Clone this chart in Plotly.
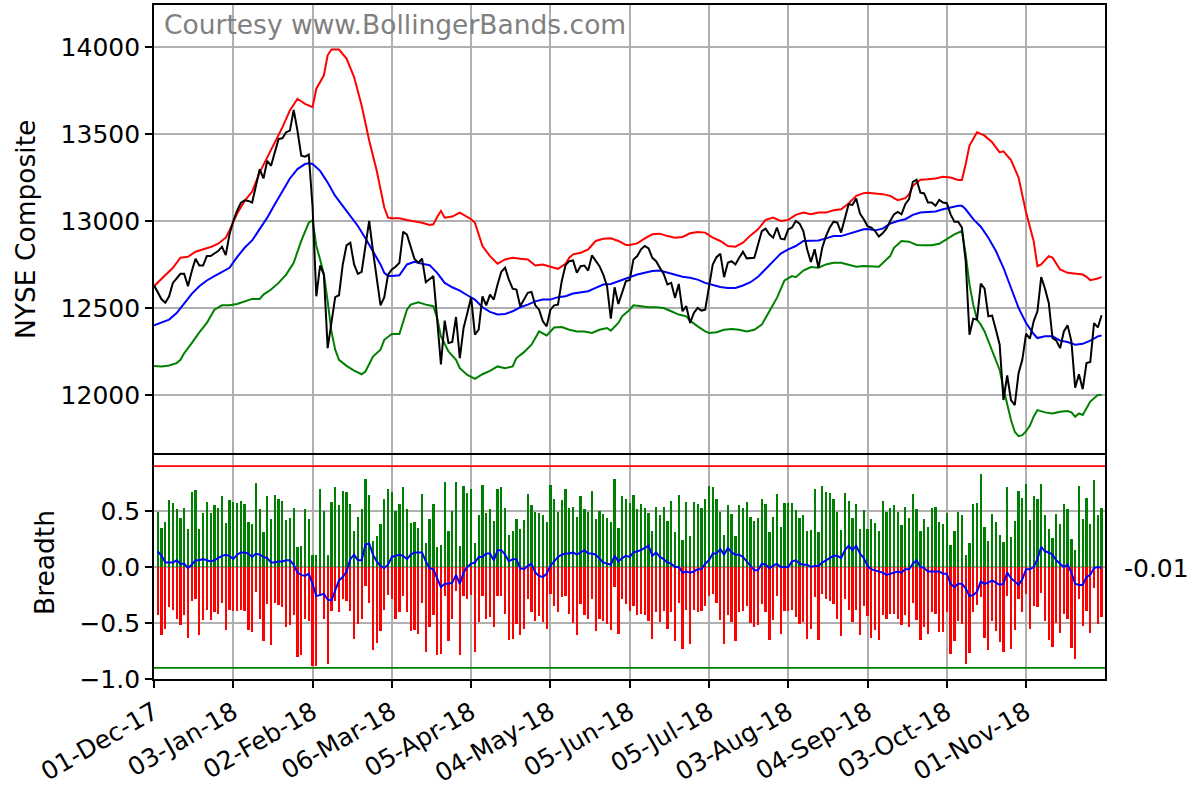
import plotly.graph_objects as go

# ---------------- data ----------------
tick_labels = ["01-Dec-17", "03-Jan-18", "02-Feb-18", "06-Mar-18", "05-Apr-18", "04-May-18",
               "05-Jun-18", "05-Jul-18", "03-Aug-18", "04-Sep-18", "03-Oct-18", "01-Nov-18"]
tick_step = 21  # trading days between labelled ticks

# NYSE Composite daily close, trading-day index 0..251
price = [
    12630, 12590, 12550, 12530, 12567, 12644, 12673, 12696, 12696, 12625,
    12711, 12783, 12744, 12744, 12798, 12798, 12813, 12827, 12852, 12804,
    12923, 13000, 13058, 13104, 13119, 13115, 13106, 13202, 13298, 13244,
    13346, 13317, 13394, 13471, 13475, 13510, 13519, 13638, 13519, 13375,
    13369, 13381, 13080, 12567, 12744, 12692, 12269, 12413, 12562, 12573,
    12750, 12860, 12875, 12750, 12696, 12708, 12865, 13000, 12827, 12654,
    12515, 12562, 12692, 12721, 12737, 12760, 12938, 12921, 12848, 12781,
    12760, 12783, 12648, 12667, 12683, 12433, 12175, 12427, 12298, 12304,
    12448, 12212, 12385, 12471, 12562, 12346, 12375, 12567, 12515, 12577,
    12548, 12635, 12708, 12731, 12663, 12611, 12606, 12510, 12548, 12587,
    12592, 12515, 12490, 12423, 12394, 12490, 12515, 12519, 12654, 12746,
    12769, 12773, 12702, 12740, 12744, 12715, 12802, 12769, 12740, 12692,
    12625, 12438, 12619, 12523, 12596, 12654, 12660, 12779, 12798, 12837,
    12856, 12842, 12788, 12769, 12731, 12696, 12635, 12644, 12558, 12638,
    12481, 12510, 12414, 12471, 12500, 12485, 12490, 12615, 12750, 12792,
    12812, 12677, 12760, 12769, 12750, 12788, 12823, 12785, 12788, 12788,
    12865, 12942, 12956, 12923, 12904, 12962, 12898, 12894, 12952, 12962,
    13000, 12985, 12942, 12837, 12764, 12837, 12731, 12846, 12913, 12962,
    12996, 12990, 12933, 13010, 13096, 13092, 13129, 13042, 13010, 12970,
    12962, 12942, 12910, 12929, 12956, 13000, 13038, 13052, 13038, 13096,
    13125, 13225, 13237, 13163, 13158, 13106, 13106, 13087, 13121, 13106,
    13102, 13038, 12996, 12996, 12962, 12769, 12346, 12438, 12433, 12640,
    12611, 12452, 12456, 12375, 12289, 11971, 12112, 11971, 11942, 12125,
    12202, 12352, 12323, 12423, 12481, 12677, 12611, 12529, 12327, 12312,
    12269, 12365, 12400, 12308, 12042, 12119, 12033, 12183, 12189, 12413,
    12388, 12458,
]

# Bollinger bands as (trading-day index, value) readings
upper_band = [
    (0, 12625), (3, 12692), (5, 12731), (7, 12789), (9, 12794), (11, 12823), (13, 12837),
    (15, 12850), (17, 12869), (19, 12904), (20, 12946), (22, 13042), (24, 13115), (26, 13169),
    (28, 13279), (30, 13365), (32, 13452), (34, 13538), (36, 13635), (38, 13702), (40, 13673),
    (42, 13654), (43, 13760), (45, 13837), (46, 13952), (47, 13985), (49, 13985), (51, 13933),
    (53, 13827), (55, 13663), (57, 13462), (59, 13288), (61, 13077), (62, 13019), (63, 13015),
    (65, 13015), (67, 13006), (69, 13000), (71, 12990), (73, 12977), (74, 12981), (75, 13023),
    (76, 13058), (77, 13019), (79, 13025), (81, 13048), (83, 13023), (84, 13010), (85, 12990),
    (86, 12923), (87, 12856), (89, 12798), (91, 12754), (93, 12779), (95, 12789), (97, 12783),
    (99, 12779), (101, 12744), (103, 12750), (105, 12737), (107, 12725), (109, 12754),
    (110, 12789), (111, 12808), (113, 12817), (115, 12837), (117, 12885), (119, 12898),
    (121, 12900), (123, 12885), (125, 12862), (126, 12862), (128, 12871), (130, 12900),
    (132, 12923), (134, 12927), (136, 12913), (138, 12904), (140, 12908), (142, 12929),
    (144, 12937), (146, 12933), (148, 12904), (150, 12885), (152, 12856), (154, 12852),
    (156, 12875), (158, 12917), (160, 12952), (162, 13006), (164, 13019), (166, 13000),
    (168, 13006), (170, 13035), (172, 13048), (174, 13038), (176, 13048), (178, 13048),
    (180, 13061), (182, 13067), (184, 13100), (186, 13144), (188, 13160), (189, 13162),
    (191, 13160), (193, 13154), (195, 13144), (197, 13119), (199, 13131), (200, 13154),
    (201, 13202), (203, 13237), (205, 13240), (207, 13244), (209, 13254), (211, 13250),
    (213, 13235), (214, 13235), (215, 13327), (216, 13433), (218, 13510), (220, 13490),
    (222, 13452), (224, 13394), (225, 13400), (227, 13350), (229, 13250), (231, 13048),
    (233, 12885), (234, 12740), (235, 12750), (237, 12798), (238, 12789), (240, 12721),
    (242, 12702), (244, 12696), (246, 12692), (247, 12679), (248, 12660), (250, 12669),
    (251, 12679),
]

middle_band = [
    (0, 12400), (2, 12417), (4, 12433), (6, 12471), (8, 12529), (10, 12581), (12, 12625),
    (14, 12658), (16, 12683), (18, 12706), (20, 12731), (22, 12792), (24, 12846), (26, 12888),
    (28, 12952), (30, 13019), (32, 13096), (34, 13173), (36, 13244), (38, 13298), (40, 13327),
    (41, 13331), (42, 13327), (44, 13288), (46, 13221), (48, 13144), (50, 13087), (52, 13035),
    (54, 12971), (56, 12900), (58, 12827), (60, 12750), (61, 12702), (62, 12683), (63, 12683),
    (65, 12688), (67, 12750), (69, 12765), (71, 12754), (73, 12746), (75, 12702), (77, 12644),
    (79, 12619), (81, 12600), (83, 12573), (85, 12548), (87, 12504), (89, 12477), (91, 12462),
    (93, 12465), (95, 12481), (97, 12504), (99, 12519), (101, 12538), (103, 12548),
    (105, 12548), (107, 12562), (109, 12567), (111, 12583), (113, 12590), (115, 12596),
    (117, 12615), (119, 12635), (121, 12638), (123, 12654), (125, 12669), (126, 12676),
    (128, 12692), (130, 12702), (132, 12712), (134, 12715), (136, 12702), (138, 12688),
    (140, 12679), (142, 12673), (144, 12663), (146, 12644), (148, 12631), (150, 12621),
    (152, 12615), (154, 12615), (156, 12629), (158, 12648), (160, 12679), (162, 12725),
    (164, 12769), (166, 12812), (168, 12837), (170, 12856), (172, 12885), (174, 12888),
    (176, 12888), (178, 12900), (180, 12913), (182, 12913), (184, 12927), (186, 12942),
    (188, 12952), (189, 12954), (191, 12946), (193, 12956), (195, 12985), (197, 13000),
    (199, 13010), (201, 13035), (203, 13048), (205, 13052), (207, 13054), (209, 13067),
    (211, 13077), (213, 13087), (214, 13087), (215, 13067), (217, 13010), (219, 12967),
    (221, 12904), (223, 12827), (225, 12731), (227, 12615), (229, 12500), (231, 12413),
    (233, 12350), (234, 12327), (236, 12337), (238, 12337), (240, 12312), (242, 12304),
    (244, 12289), (246, 12294), (248, 12312), (250, 12337), (251, 12342),
]

lower_band = [
    (0, 12167), (2, 12164), (4, 12169), (6, 12183), (7, 12202), (8, 12240), (10, 12298),
    (12, 12360), (14, 12414), (16, 12490), (18, 12515), (20, 12515), (22, 12523), (24, 12538),
    (26, 12552), (28, 12552), (29, 12577), (31, 12606), (33, 12644), (35, 12692), (37, 12760),
    (39, 12885), (41, 12990), (42, 13004), (43, 12856), (44, 12779), (45, 12692), (46, 12538),
    (47, 12365), (48, 12260), (49, 12202), (51, 12167), (53, 12140), (55, 12119), (56, 12135),
    (58, 12221), (60, 12260), (61, 12317), (63, 12350), (65, 12350), (66, 12427), (67, 12490),
    (68, 12519), (70, 12533), (72, 12519), (74, 12510), (75, 12442), (76, 12337), (78, 12250),
    (80, 12202), (81, 12154), (83, 12115), (85, 12092), (87, 12119), (89, 12138), (91, 12164),
    (93, 12154), (95, 12164), (96, 12212), (98, 12246), (100, 12289), (102, 12365),
    (104, 12342), (106, 12388), (108, 12390), (110, 12375), (112, 12365), (114, 12365),
    (116, 12356), (118, 12375), (120, 12385), (121, 12369), (123, 12414), (124, 12452),
    (126, 12490), (127, 12515), (129, 12510), (131, 12504), (133, 12504), (135, 12500),
    (137, 12481), (139, 12462), (141, 12452), (142, 12427), (144, 12394), (146, 12365),
    (147, 12356), (149, 12360), (151, 12375), (153, 12379), (155, 12375), (157, 12365),
    (159, 12375), (161, 12404), (163, 12481), (165, 12558), (167, 12658), (169, 12683),
    (170, 12677), (172, 12715), (174, 12735), (176, 12731), (178, 12750), (180, 12760),
    (182, 12760), (184, 12750), (186, 12737), (188, 12741), (189, 12741), (191, 12737),
    (192, 12737), (194, 12779), (195, 12798), (196, 12846), (198, 12885), (200, 12881),
    (202, 12862), (204, 12860), (206, 12860), (208, 12869), (210, 12894), (212, 12923),
    (214, 12942), (215, 12808), (216, 12635), (217, 12519), (218, 12433), (219, 12404),
    (220, 12365), (221, 12308), (222, 12260), (223, 12202), (224, 12144), (225, 12038),
    (226, 11942), (227, 11856), (228, 11788), (229, 11763), (230, 11769), (231, 11792),
    (232, 11823), (233, 11875), (234, 11913), (236, 11900), (238, 11894), (240, 11904),
    (242, 11908), (243, 11900), (244, 11875), (245, 11894), (246, 11885), (248, 11962),
    (250, 12000), (251, 12000),
]

# Breadth: advancing share (positive), declining share (negative), smoothed net breadth
advances = [
    0.49, 0.35, 0.40, 0.60, 0.57, 0.52, 0.44, 0.53, 0.34, 0.67, 0.69, 0.34, 0.48, 0.58, 0.48,
    0.55, 0.53, 0.63, 0.39, 0.60, 0.58, 0.57, 0.59, 0.56, 0.40, 0.38, 0.75, 0.52, 0.31, 0.63,
    0.43, 0.64, 0.61, 0.59, 0.42, 0.44, 0.53, 0.18, 0.19, 0.52, 0.43, 0.11, 0.11, 0.70, 0.50,
    0.11, 0.58, 0.71, 0.55, 0.68, 0.67, 0.56, 0.32, 0.45, 0.52, 0.79, 0.64, 0.23, 0.28, 0.38,
    0.61, 0.70, 0.67,
    0.50, 0.56, 0.71, 0.52, 0.39, 0.40, 0.35, 0.65, 0.21, 0.43, 0.56, 0.18, 0.20, 0.76, 0.32,
    0.50, 0.76, 0.19, 0.72, 0.66, 0.70, 0.21, 0.46, 0.73, 0.48, 0.52, 0.41, 0.70, 0.71, 0.53,
    0.29, 0.32, 0.43, 0.34, 0.42, 0.65, 0.55, 0.49, 0.48, 0.46, 0.40, 0.73, 0.61, 0.49, 0.60,
    0.70, 0.53, 0.54, 0.45, 0.63, 0.52, 0.49, 0.68, 0.43, 0.50, 0.47, 0.44, 0.40, 0.79, 0.35,
    0.63, 0.61, 0.57, 0.64,
    0.52, 0.56, 0.53, 0.48, 0.32, 0.54, 0.46, 0.54, 0.41, 0.59, 0.31, 0.64, 0.24, 0.58, 0.28,
    0.58, 0.56, 0.53, 0.61, 0.72, 0.71, 0.61, 0.49, 0.29, 0.55, 0.47, 0.28, 0.55, 0.53, 0.58,
    0.45, 0.41, 0.44, 0.61, 0.56, 0.31, 0.45, 0.65, 0.36, 0.57, 0.57, 0.57, 0.51, 0.44, 0.46,
    0.32, 0.33, 0.70, 0.31, 0.72, 0.67, 0.66, 0.61, 0.49, 0.33, 0.66, 0.59, 0.44, 0.56, 0.34,
    0.51, 0.34,
    0.43, 0.39, 0.32, 0.59, 0.49, 0.53, 0.55, 0.49, 0.375, 0.54, 0.44, 0.65, 0.52, 0.32, 0.43,
    0.36, 0.53, 0.54, 0.40, 0.38, 0.48, 0.20, 0.32, 0.49, 0.46, 0.11, 0.21, 0.56, 0.57, 0.83,
    0.36, 0.23, 0.47, 0.40, 0.29, 0.22, 0.71, 0.27, 0.41, 0.68, 0.62, 0.74, 0.42, 0.63, 0.61,
    0.74, 0.46, 0.34, 0.26, 0.47, 0.38, 0.56, 0.52, 0.25, 0.15, 0.72, 0.43, 0.62, 0.38, 0.78,
    0.46, 0.53,
]

declines = [
    -0.43, -0.61, -0.55, -0.36, -0.38, -0.46, -0.52, -0.43, -0.63, -0.30, -0.29, -0.61, -0.47,
    -0.38, -0.47, -0.40, -0.42, -0.32, -0.56, -0.38, -0.39, -0.39, -0.38, -0.39, -0.56, -0.58,
    -0.22, -0.46, -0.66, -0.33, -0.70, -0.32, -0.34, -0.36, -0.54, -0.52, -0.43, -0.80, -0.79,
    -0.46, -0.48, -0.88, -0.88, -0.26, -0.46, -0.87, -0.39, -0.30, -0.40, -0.29, -0.30, -0.39,
    -0.64, -0.51, -0.46, -0.17, -0.32, -0.74, -0.68, -0.57, -0.38, -0.25, -0.29,
    -0.46, -0.40, -0.26, -0.40, -0.57, -0.56, -0.60, -0.32, -0.76, -0.54, -0.43, -0.79, -0.78,
    -0.26, -0.66, -0.46, -0.21, -0.79, -0.26, -0.29, -0.25, -0.76, -0.49, -0.26, -0.46, -0.45,
    -0.54, -0.26, -0.26, -0.42, -0.65, -0.64, -0.51, -0.61, -0.55, -0.29, -0.40, -0.48, -0.44,
    -0.49, -0.55, -0.24, -0.35, -0.40, -0.27, -0.26, -0.42, -0.50, -0.61, -0.33, -0.43, -0.46,
    -0.29, -0.57, -0.46, -0.48, -0.51, -0.56, -0.18, -0.60, -0.29, -0.33, -0.39, -0.35,
    -0.43, -0.42, -0.43, -0.48, -0.64, -0.40, -0.49, -0.39, -0.55, -0.40, -0.66, -0.32, -0.73,
    -0.38, -0.69, -0.38, -0.40, -0.39, -0.35, -0.26, -0.24, -0.32, -0.47, -0.69, -0.43, -0.49,
    -0.66, -0.40, -0.39, -0.35, -0.50, -0.54, -0.52, -0.33, -0.40, -0.65, -0.47, -0.26, -0.60,
    -0.39, -0.39, -0.38, -0.45, -0.51, -0.49, -0.64, -0.55, -0.27, -0.65, -0.24, -0.29, -0.30,
    -0.33, -0.46, -0.62, -0.29, -0.38, -0.49, -0.38, -0.61, -0.35, -0.44,
    -0.63, -0.56, -0.65, -0.43, -0.46, -0.42, -0.42, -0.46, -0.52, -0.43, -0.54, -0.32, -0.47,
    -0.65, -0.54, -0.60, -0.40, -0.42, -0.58, -0.58, -0.40, -0.78, -0.66, -0.48, -0.51, -0.87,
    -0.77, -0.40, -0.34, -0.27, -0.63, -0.74, -0.48, -0.57, -0.67, -0.76, -0.26, -0.73, -0.56,
    -0.29, -0.40, -0.24, -0.55, -0.35, -0.36, -0.23, -0.48, -0.65, -0.71, -0.50, -0.59, -0.42,
    -0.46, -0.72, -0.82, -0.29, -0.53, -0.39, -0.59, -0.19, -0.51, -0.45,
]

net_breadth_avg = [
    0.14, 0.10, 0.04, 0.04, 0.04, 0.06, 0.03, 0.03, -0.01, 0.02, 0.06, 0.06, 0.07, 0.06, 0.05,
    0.06, 0.08, 0.10, 0.11, 0.10, 0.07, 0.11, 0.13, 0.13, 0.12, 0.09, 0.12, 0.11, 0.09, 0.08,
    0.04, 0.04, 0.05, 0.05, 0.06, 0.06, 0.02, -0.05, -0.07, -0.08, -0.06, -0.15, -0.26, -0.25,
    -0.24, -0.29, -0.30, -0.21, -0.12, -0.09, -0.04, 0.07, 0.11, 0.06, 0.06, 0.20, 0.21, 0.11,
    0.05, 0.01, -0.01, 0.02, 0.09,
    0.10, 0.11, 0.10, 0.07, 0.11, 0.13, 0.13, 0.13, 0.05, -0.01, -0.02, -0.10, -0.18, -0.15,
    -0.15, -0.14, -0.07, -0.15, -0.05, 0.00, 0.03, 0.04, 0.09, 0.09, 0.12, 0.12, 0.06, 0.15,
    0.15, 0.11, 0.05, 0.07, 0.07, -0.01, -0.02, 0.01, 0.03, -0.05, -0.08, -0.09, -0.06, 0.01,
    0.05, 0.09, 0.11, 0.12, 0.12, 0.13, 0.11, 0.13, 0.15, 0.12, 0.12, 0.11, 0.07, 0.04, 0.03,
    0.02, 0.10, 0.05, 0.08, 0.10, 0.09, 0.13,
    0.14, 0.15, 0.17, 0.19, 0.10, 0.13, 0.09, 0.07, 0.04, 0.03, 0.00, 0.00, -0.05, -0.04, -0.05,
    -0.04, -0.02, -0.02, 0.03, 0.06, 0.12, 0.12, 0.16, 0.11, 0.17, 0.13, 0.11, 0.11, 0.09, 0.05,
    0.01, -0.03, -0.03, 0.03, 0.02, -0.01, 0.01, 0.03, 0.00, 0.00, 0.00, 0.05, 0.06, 0.03, 0.02,
    0.02, 0.00, 0.01, 0.01, 0.04, 0.06, 0.08, 0.10, 0.10, 0.08, 0.15, 0.19, 0.15, 0.19, 0.12,
    0.08, 0.01,
    -0.02, -0.03, -0.04, -0.05, -0.07, -0.06, -0.05, -0.04, -0.05, -0.02, -0.02, 0.03, 0.06,
    0.00, -0.01, -0.04, -0.04, -0.04, -0.04, -0.06, -0.06, -0.15, -0.18, -0.15, -0.15, -0.19,
    -0.26, -0.25, -0.22, -0.13, -0.15, -0.14, -0.12, -0.14, -0.16, -0.15, -0.05, -0.10, -0.13,
    -0.16, -0.11, -0.02, -0.02, 0.00, 0.07, 0.18, 0.14, 0.13, 0.11, 0.06, 0.03, 0.00, 0.02,
    -0.05, -0.15, -0.16, -0.16, -0.09, -0.07, -0.01, 0.00, -0.01,
]

overbought_level = 0.9
oversold_level = -0.9
last_label = "-0.01"

# ---------------- figure ----------------
W, H = 1201, 789
FONT = "DejaVu Sans"
FS = 25        # tick labels
FS_LABEL = 26.5  # axis titles / watermark
GRID = "#b0b0b0"

price_x = list(range(len(price)))
breadth_x = list(range(1, len(advances) + 1))
tick_vals = [k * tick_step for k in range(len(tick_labels))]

fig = go.Figure()

def band(pairs, color):
    xs = [p[0] for p in pairs]
    ys = [p[1] for p in pairs]
    return go.Scatter(x=xs, y=ys, mode="lines", line=dict(color=color, width=2),
                      xaxis="x", yaxis="y", showlegend=False, hoverinfo="skip")

fig.add_trace(band(upper_band, "#ff0000"))
fig.add_trace(band(lower_band, "#008000"))
fig.add_trace(band(middle_band, "#0000ff"))
fig.add_trace(go.Scatter(x=price_x, y=price, mode="lines", line=dict(color="black", width=2),
                         xaxis="x", yaxis="y", showlegend=False))

fig.add_trace(go.Bar(x=breadth_x, y=advances, width=0.6, marker=dict(color="#008000", line=dict(width=0)),
                     xaxis="x2", yaxis="y2", showlegend=False))
fig.add_trace(go.Bar(x=breadth_x, y=declines, width=0.6, marker=dict(color="#ff0000", line=dict(width=0)),
                     xaxis="x2", yaxis="y2", showlegend=False))
fig.add_trace(go.Scatter(x=breadth_x, y=net_breadth_avg, mode="lines", line=dict(color="#0000ff", width=2),
                         xaxis="x2", yaxis="y2", showlegend=False))

x_range = [0, 251.9]
fig.add_trace(go.Scatter(x=x_range, y=[overbought_level] * 2, mode="lines",
                         line=dict(color="#ff0000", width=1.7), xaxis="x2", yaxis="y2", showlegend=False))
fig.add_trace(go.Scatter(x=x_range, y=[oversold_level] * 2, mode="lines",
                         line=dict(color="#008000", width=1.7), xaxis="x2", yaxis="y2", showlegend=False))

xdom = [154 / W, 1105 / W]
top_dom = [(H - 455) / H, (H - 5) / H]
bot_dom = [(H - 679) / H, (H - 455) / H]

common_axis = dict(showline=True, linecolor="black", linewidth=1.7,
                   gridcolor=GRID, gridwidth=1.7, zeroline=False, automargin=False,
                   tickfont=dict(family=FONT, size=FS, color="black"))

fig.update_layout(
    width=W, height=H,
    margin=dict(l=0, r=0, t=0, b=0),
    paper_bgcolor="white", plot_bgcolor="white",
    barmode="overlay", bargap=0,
    font=dict(family=FONT, size=FS, color="black"),
    # top panel: draw only its top border; the shared border comes from the lower panel
    xaxis=dict(domain=xdom, range=x_range, anchor="y", side="top", mirror=False,
               tickvals=tick_vals, showticklabels=False, ticks="", **common_axis),
    yaxis=dict(domain=top_dom, range=[11655, 14241], anchor="x", mirror=True,
               tickvals=[12000, 12500, 13000, 13500, 14000],
               ticktext=["12000", "12500", "13000", "13500", "14000"],
               ticks="outside", ticklen=7, tickwidth=1.7, tickcolor="black", **common_axis),
    xaxis2=dict(domain=xdom, range=x_range, anchor="y2", matches="x", mirror=True,
                tickvals=tick_vals, ticktext=tick_labels, tickangle=-30, ticks="outside",
                ticklen=7, tickwidth=1.7, tickcolor="black", **common_axis),
    yaxis2=dict(domain=bot_dom, range=[-1.0, 1.0], anchor="x2", mirror=True,
                tickvals=[-1.0, -0.5, 0.0, 0.5],
                ticktext=["\u22121.0", "\u22120.5", "0.0", "0.5"],
                ticks="outside", ticklen=7, tickwidth=1.7, tickcolor="black", **common_axis),
)

fig.add_annotation(text="NYSE Composite", xref="paper", yref="paper", x=25 / W, y=(H - 230) / H,
                   textangle=-90, showarrow=False, xanchor="center", yanchor="middle",
                   font=dict(family=FONT, size=FS_LABEL, color="black"))
fig.add_annotation(text="Breadth", xref="paper", yref="paper", x=44 / W, y=(H - 563) / H,
                   textangle=-90, showarrow=False, xanchor="center", yanchor="middle",
                   font=dict(family=FONT, size=FS_LABEL, color="black"))
fig.add_annotation(text="Courtesy www.BollingerBands.com", xref="paper", yref="paper",
                   x=162 / W, y=(H - 25) / H, showarrow=False, xanchor="left", yanchor="middle",
                   font=dict(family=FONT, size=FS_LABEL, color="#808080"))
fig.add_annotation(text=last_label, xref="paper", yref="y2", x=1122 / W, y=net_breadth_avg[-1],
                   showarrow=False, xanchor="left", yanchor="middle",
                   font=dict(family=FONT, size=FS, color="black"))

fig.write_html("out.html", config={"displayModeBar": False},
               post_script="document.body.style.margin='0';")
